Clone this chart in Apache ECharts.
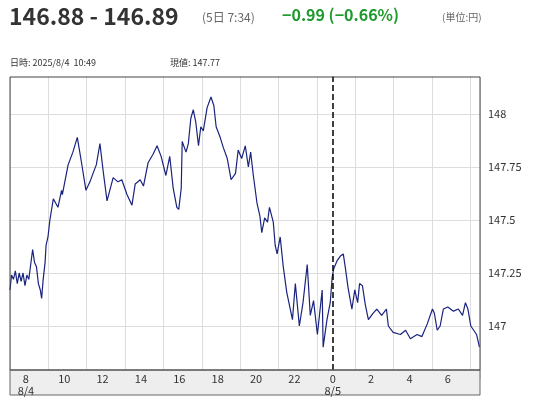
<!DOCTYPE html>
<html><head><meta charset="utf-8">
<script src="https://cdn.jsdelivr.net/npm/echarts@6/dist/echarts.min.js"></script>
<style>html,body{margin:0;padding:0;background:#fff}#c{width:545px;height:400px}</style>
</head><body><div id="c"></div>
<script>
// hours since 2025/8/4 00:00
const hours = [7.17,7.25,7.35,7.45,7.55,7.65,7.75,7.85,7.95,8.05,8.15,8.25,8.35,8.45,8.55,8.65,8.75,8.82,8.9,9.0,9.05,9.15,9.25,
9.43,9.67,9.86,9.9,10.2,10.45,10.68,10.9,11.13,11.34,11.5,11.67,11.86,12.03,12.23,12.55,12.8,13.0,13.27,13.53,13.7,13.96,14.13,14.37,14.63,14.84,15.05,15.3,15.5,15.68,15.87,15.97,16.1,16.15,16.35,16.47,16.6,16.73,16.86,17.0,17.12,17.25,17.45,17.65,17.8,17.92,18.13,18.3,18.5,18.7,18.93,19.07,19.25,19.44,19.6,19.72,19.86,20.05,20.2,20.3,20.45,20.6,20.7,20.9,21.0,21.1,21.26,21.42,21.6,21.9,22.05,22.26,22.45,22.67,22.83,23.0,23.2,23.45,23.5,23.7,23.87,23.97,24.05,24.24,24.4,24.55,24.65,24.8,25.0,25.15,25.3,25.4,25.55,25.7,25.86,26.1,26.3,26.55,26.8,26.9,27.15,27.53,27.8,28.05,28.4,28.65,28.93,29.2,29.3,29.45,29.6,29.77,30.0,30.3,30.55,30.77,30.92,31.05,31.2,31.35,31.5,31.65];
const prices = [147.17,147.24,147.22,147.26,147.20,147.25,147.21,147.25,147.19,147.24,147.22,147.29,147.36,147.30,147.28,147.20,147.17,147.13,147.22,147.30,147.38,147.42,147.50,
147.60,147.56,147.64,147.62,147.76,147.82,147.89,147.77,147.64,147.68,147.72,147.76,147.86,147.73,147.59,147.70,147.68,147.69,147.62,147.57,147.67,147.69,147.66,147.77,147.81,147.85,147.80,147.71,147.80,147.65,147.56,147.55,147.65,147.87,147.82,147.86,147.98,148.02,147.96,147.85,147.94,147.92,148.03,148.08,148.04,147.94,147.89,147.84,147.79,147.69,147.72,147.83,147.79,147.85,147.75,147.82,147.71,147.58,147.52,147.44,147.51,147.49,147.56,147.49,147.38,147.34,147.42,147.28,147.16,147.03,147.20,147.00,147.11,147.29,147.05,147.12,146.96,147.17,146.90,147.03,147.11,147.23,147.27,147.31,147.33,147.34,147.28,147.18,147.08,147.17,147.11,147.20,147.19,147.10,147.03,147.06,147.08,147.05,147.08,147.00,146.97,146.96,146.98,146.94,146.96,146.95,147.01,147.08,147.06,146.98,147.00,147.08,147.09,147.07,147.08,147.05,147.11,147.08,147.00,146.98,146.96,146.90];
const xTicks = [8,10,12,14,16,18,20,22,24,26,28,30];
const dateLabels = {8:'8/4',24:'8/5'};
const yTicks = [147,147.25,147.5,147.75,148];

const chart = echarts.init(document.getElementById('c'));
const xMin = 7.17, xMax = 31.68;
const font = 'Noto Sans CJK JP';
chart.setOption({
  animation:false,
  textStyle:{fontFamily:font},
  grid:[{left:10,right:65,top:61,bottom:21},{left:10,right:65,top:370,height:1}],
  xAxis:[
    {type:'value',gridIndex:0,min:xMin,max:xMax,interval:2,
     axisLine:{show:false},axisTick:{show:false},axisLabel:{show:false},
     splitLine:{show:true,lineStyle:{color:'#ddd'}},
     customValues:xTicks},
    {type:'value',gridIndex:1,min:xMin,max:xMax,z:20,
     axisLine:{show:false},axisTick:{show:false},splitLine:{show:false},
     axisLabel:{customValues:xTicks,margin:2,color:'#333',fontSize:11,lineHeight:12,verticalAlign:'top',
       formatter:v=>{const h=Math.round(v)%24;const d=dateLabels[Math.round(v)];return d?h+'\n'+d:String(h);}}}
  ],
  yAxis:[
    {type:'value',gridIndex:0,position:'right',min:146.75,max:148.25,interval:0.25,
     axisLine:{show:false},axisTick:{show:false},
     splitLine:{lineStyle:{color:'#ddd'}},
     axisLabel:{margin:8,color:'#333',fontSize:11,formatter:v=>yTicks.some(t=>Math.abs(t-v)<1e-6)?String(+v.toFixed(2)):''}},
    {type:'value',gridIndex:1,show:false}
  ],
  series:[{type:'line',xAxisIndex:0,yAxisIndex:0,data:hours.map((h,i)=>[h,prices[i]]),
    showSymbol:false,lineStyle:{color:'#1a237e',width:1.2},
    markLine:{silent:true,symbol:'none',label:{show:false},lineStyle:{color:'#000',type:'dashed',width:1.5},data:[{xAxis:24}]}}],
  graphic:[
    {type:'rect',z:10,shape:{x:0,y:50,width:490,height:26.5},style:{fill:'#fff'}},
    {type:'rect',z:10,shape:{x:10,y:370,width:470,height:25},style:{fill:'#eeeeee',stroke:'#666',lineWidth:1}},
    {type:'rect',z:11,shape:{x:10,y:77,width:470,height:293},style:{fill:'none',stroke:'#444',lineWidth:1}},
    {type:'text',z:12,left:9,top:5,style:{text:'146.88 - 146.89',font:'bold 23px '+font,fill:'#333'}},
    {type:'text',z:12,left:202,top:11,style:{text:'(5日 7:34)',font:'12px '+font,fill:'#666'}},
    {type:'text',z:12,left:282,top:7,style:{text:'−0.99 (−0.66%)',font:'bold 16px '+font,fill:'#1f9a2e'}},
    {type:'text',z:12,left:442,top:12,style:{text:'(単位:円)',font:'10px '+font,fill:'#666'}},
    {type:'text',z:12,left:10,top:58,style:{text:'日時: 2025/8/4  10:49',font:'9px '+font,fill:'#333'}},
    {type:'text',z:12,left:170,top:58,style:{text:'現値: 147.77',font:'9px '+font,fill:'#333'}}
  ]
});
</script></body></html>
